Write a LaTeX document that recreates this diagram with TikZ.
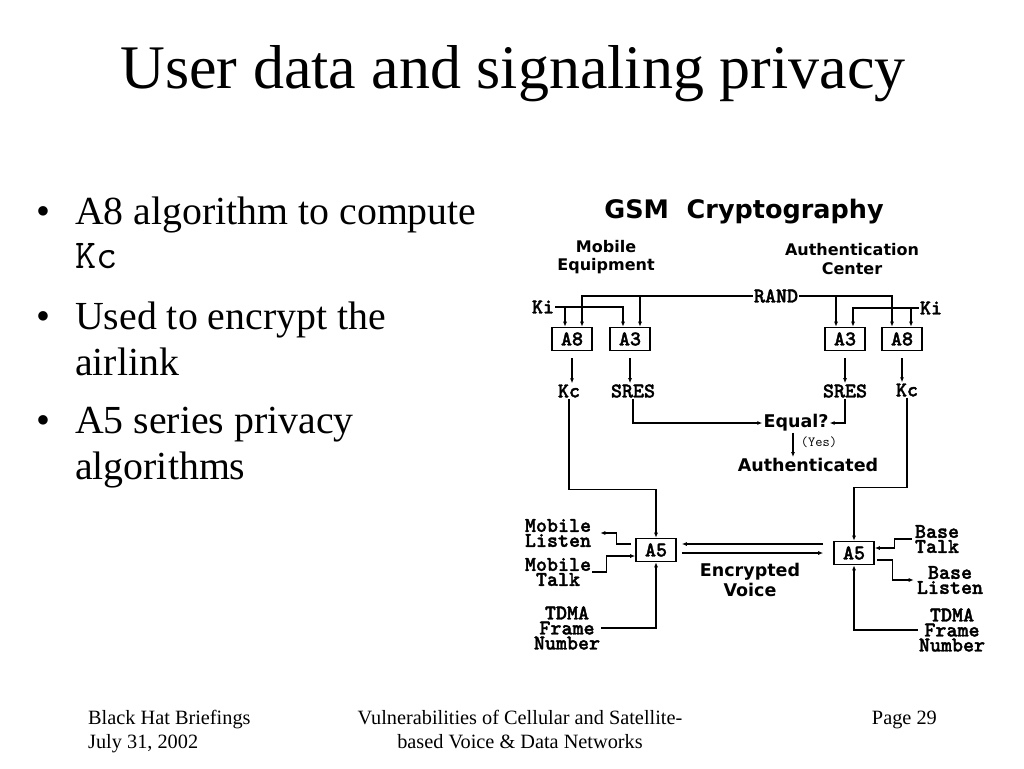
\documentclass[tikz,border=0pt]{standalone}
\usepackage{fontspec}
\setmainfont{Liberation Serif}
\newfontfamily\headfont{DejaVu Sans}
\newfontfamily\monobold{lmmonolt10-bold.otf}[FakeBold=1.6]
\usetikzlibrary{arrows.meta}

\tikzset{
  algo/.style={draw, line width=1.6pt, minimum width=40pt, minimum height=23pt, inner sep=0pt,
    font=\monobold\fontsize{21}{15}\selectfont},
  lbl/.style={align=center, inner sep=1pt, font=\monobold\fontsize{21}{15}\selectfont},
  head/.style={align=center, inner sep=1pt, font=\headfont\bfseries\fontsize{17.5}{20}\selectfont},
  flow/.style={line width=1.1pt, -{Latex[length=5pt,width=4pt]}},
  slide/.style={anchor=base west, inner sep=0pt, font=\fontsize{39.8}{44}\selectfont},
  foot/.style={inner sep=0pt, font=\fontsize{20.3}{23}\selectfont}
}

\begin{document}
\begin{tikzpicture}[x=1pt, y=-1pt]
                \useasboundingbox (0, 0) rectangle (1024, 768);
                \fill [white] (0, 0) rectangle (1024, 768);
                % slide text
                \node [inner sep=0pt, anchor=base, font=\fontsize{62}{70}\selectfont] (title) at (513, 88)
                    {User data and signaling privacy};
                \foreach \i/\yy in {1/224, 2/329, 3/433}
                    \node [slide, anchor=base] (dot\i) at (43, \yy) {•};
                \node [slide] (line1) at (75, 224) {A8 algorithm to compute};
                \node [slide, font=\ttfamily\fontsize{41}{44}\selectfont] (line2) at (75, 268) {Kc};
                \node [slide] (line3) at (75, 329) {Used to encrypt the};
                \node [slide] (line4) at (75, 375) {airlink};
                \node [slide] (line5) at (75, 433) {A5 series privacy};
                \node [slide] (line6) at (75, 479) {algorithms};
                % footer
                \node [foot, anchor=base west] (foot1) at (88, 724) {Black Hat Briefings};
                \node [foot, anchor=base west] (foot2) at (88, 748) {July 31, 2002};
                \node [foot, anchor=base] (foot3) at (520, 724) {Vulnerabilities of Cellular and Satellite-};
                \node [foot, anchor=base] (foot4) at (520, 748) {based Voice \& Data Networks};
                \node [foot, anchor=base east] (foot5) at (937, 724) {Page 29};
                % diagram headings
                \node [head, font=\headfont\bfseries\fontsize{25.5}{28}\selectfont] (gsm) at (744, 212)
                    {GSM\ \ Cryptography};
                \node [head, font=\headfont\bfseries\fontsize{16}{18.5}\selectfont] (mobile) at (606, 257)
                    {Mobile\\Equipment};
                \node [head, font=\headfont\bfseries\fontsize{16}{18.5}\selectfont] (center) at (852, 259)
                    {Authentication\\Center};
                % boxes and labels
                \node [algo] (a8l) at (572, 339) {A8};
                \node [algo] (a3l) at (630, 339) {A3};
                \node [algo] (a3r) at (845, 339) {A3};
                \node [algo] (a8r) at (902, 339) {A8};
                \node [lbl] (rand) at (776, 296) {RAND};
                \node [lbl] (kil) at (543, 307) {Ki};
                \node [lbl] (kir) at (931, 308) {Ki};
                \node [lbl] (kcl) at (569, 391) {Kc};
                \node [lbl] (sresl) at (633, 391) {SRES};
                \node [lbl] (sresr) at (845, 391) {SRES};
                \node [lbl] (kcr) at (907, 390) {Kc};
                \node [head] (equal) at (796, 423) {Equal?};
                \node [inner sep=1pt, font=\ttfamily\fontsize{14}{14}\selectfont] (yes) at (819, 442) {(Yes)};
                \node [head] (auth) at (808, 465) {Authenticated};
                \node [algo] (a5l) at (656, 550) {A5};
                \node [algo] (a5r) at (854, 553) {A5};
                \node [head] (voice) at (750, 580) {Encrypted\\Voice};
                \node [lbl] (mlisten) at (558, 533) {Mobile\\Listen};
                \node [lbl] (mtalk) at (558, 572) {Mobile\\Talk};
                \node [lbl] (tdmal) at (567, 628) {TDMA\\Frame\\Number};
                \node [lbl] (btalk) at (937, 539) {Base\\Talk};
                \node [lbl] (blisten) at (950, 580) {Base\\Listen};
                \node [lbl] (tdmar) at (952, 630) {TDMA\\Frame\\Number};
                % mobile side inputs
                \draw [flow] (rand.west) -| ([xshift=10]a8l.north);
                \draw [flow] ([xshift=10]a3l.north |- rand.west) -- ([xshift=10]a3l.north);
                \draw [flow] (kil.east) -| ([xshift=-7]a3l.north);
                \draw [flow] ([xshift=-7]a8l.north |- kil.east) -- ([xshift=-7]a8l.north);
                \draw [flow, shorten <=7pt] (a8l.south) -- (a8l.south |- kcl.north);
                \draw [flow, shorten <=7pt] (a3l.south) -- (a3l.south |- sresl.north);
                % center side inputs
                \draw [flow] (rand.east) -| ([xshift=-10]a8r.north);
                \draw [flow] ([xshift=-9]a3r.north |- rand.east) -- ([xshift=-9]a3r.north);
                \draw [flow] (kir.west) -| ([xshift=8]a3r.north);
                \draw [flow] ([xshift=9]a8r.north |- kir.west) -- ([xshift=9]a8r.north);
                \draw [flow, shorten <=7pt] (a3r.south) -- (a3r.south |- sresr.north);
                \draw [flow, shorten <=7pt] (a8r.south) -- (a8r.south |- kcr.north);
                % comparison
                \draw [flow] (sresl.south) |- (equal.west);
                \draw [flow] (sresr.south) |- (equal.east);
                \draw [flow] ([xshift=-3]equal.south) -- ([xshift=-3]equal.south |- auth.north);
                % ciphering
                \draw [flow] (kcl.south) |- ([yshift=48]a5l.north) -- (a5l.north);
                \draw [flow] (kcr.south) |- ([yshift=53]a5r.north) -- (a5r.north);
                \draw [flow, shorten <=10pt, shorten >=5pt] ([yshift=6]a5l.east -| a5r.west) -- ([yshift=6]a5l.east);
                \draw [flow, shorten <=5pt, shorten >=10pt] ([yshift=-3]a5l.east) -- ([yshift=-3]a5l.east -| a5r.west);
                \draw [flow, shorten <=4pt, shorten >=8pt] ([yshift=6]a5l.west) -- ++(-19, 0) |- (mlisten.east);
                \draw [flow] (mtalk.east) -- ++(14, 0) |- ([yshift=-6]a5l.west);
                \draw [flow] (tdmal.east) -| (a5l.south);
                \draw [flow, shorten <=2pt] (btalk.west) -- ++(-19, 0) |- ([yshift=5]a5r.east);
                \draw [flow, shorten <=2pt, shorten >=2pt] ([yshift=-7]a5r.east) -- ++(18, 0) |- (blisten.west);
                \draw [flow] (tdmar.west) -| (a5r.south);
            \end{tikzpicture}
\end{document}
